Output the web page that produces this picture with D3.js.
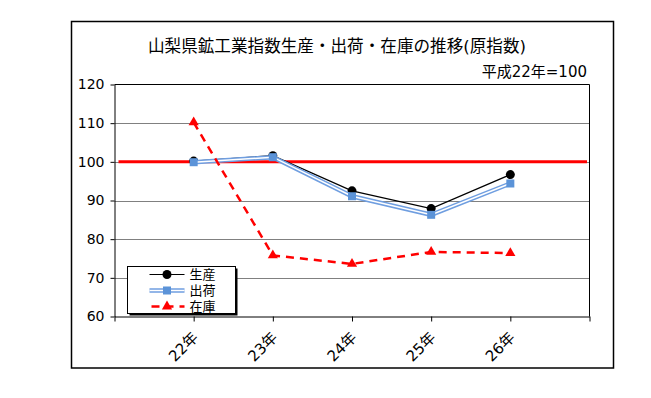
<!DOCTYPE html>
<html>
<head>
<meta charset="utf-8">
<script src="https://cdn.jsdelivr.net/npm/d3@7"></script>
<style>
  body { margin: 0; background: #fff; }
  text { font-family: "DejaVu Sans", "Noto Sans CJK JP", sans-serif; fill: #000; }
</style>
</head>
<body>
<script>
// data
const years = ["22年", "23年", "24年", "25年", "26年"];
const seisan = [100.2, 101.6, 92.5, 87.9, 96.7];
const shukka = [99.9, 101.2, 91.1, 86.3, 94.4];
const zaiko = [110.2, 75.8, 73.6, 76.7, 76.4];
const yTicks = [60, 70, 80, 90, 100, 110, 120];
const seriesNames = ["生産", "出荷", "在庫"];
const baseLine = 100;

const width = 651, height = 398;
const marginLeft = 114.5, marginRight = 589.5, marginTop = 84.5, marginBottom = 316.5;

const svg = d3.select("body").append("svg")
    .attr("width", width)
    .attr("height", height)
    .attr("viewBox", [0, 0, width, height]);

// outer frame
svg.append("rect")
    .attr("x", 71.5).attr("y", 21.5)
    .attr("width", 542).attr("height", 346.5)
    .attr("fill", "#fff").attr("stroke", "#000").attr("stroke-width", 1.5);

// empty slots before and after the years (Excel style axis)
const x = d3.scalePoint()
    .domain(["_a", ...years, "_b"])
    .range([marginLeft, marginRight]);

const y = d3.scaleLinear()
    .domain([60, 120])
    .range([marginBottom, marginTop]);

// title
svg.append("text")
    .attr("x", 337).attr("y", 52)
    .attr("text-anchor", "middle")
    .attr("font-size", 16.6)
    .attr("font-family", "\"Noto Sans CJK JP\", sans-serif")
    .text("山梨県鉱工業指数生産・出荷・在庫の推移(原指数)");

svg.append("text")
    .attr("x", 587).attr("y", 77)
    .attr("text-anchor", "end")
    .attr("font-size", 15)
    .text("平成22年=100");

// grid lines
svg.append("g")
  .selectAll("line")
  .data(yTicks.filter(d => d > 60 && d < 120))
  .join("line")
    .attr("x1", marginLeft).attr("x2", marginRight)
    .attr("y1", d => Math.round(y(d)) + 0.5)
    .attr("y2", d => Math.round(y(d)) + 0.5)
    .attr("stroke", "#808080");

// plot frame top and right
svg.append("path")
    .attr("d", `M${marginLeft},${marginTop}H${marginRight}V${marginBottom}`)
    .attr("fill", "none").attr("stroke", "#000");

// y axis
svg.append("g")
    .attr("transform", `translate(${marginLeft},0)`)
    .call(d3.axisLeft(y).tickValues(yTicks).tickSize(4).tickSizeOuter(0))
    .call(g => g.selectAll("path, line").attr("stroke", "#000"))
    .call(g => g.selectAll("text")
        .attr("font-size", 14)
        .attr("font-family", "\"DejaVu Sans\", sans-serif")
        .attr("x", -10));

// x axis
svg.append("g")
    .attr("transform", `translate(0,${marginBottom})`)
    .call(d3.axisBottom(x).tickSize(5).tickSizeOuter(0).tickFormat(d => years.includes(d) ? d : ""))
    .call(g => g.selectAll("path, line").attr("stroke", "#000"))
    .call(g => g.selectAll("text")
        .attr("font-size", 15)
        .attr("font-family", "\"DejaVu Sans\", \"Noto Sans CJK JP\", sans-serif")
        .attr("text-anchor", "end")
        .attr("y", 0).attr("dy", 0)
        .attr("transform", "translate(5,22) rotate(-45)"));

// 100 line
svg.append("line")
    .attr("x1", marginLeft + 4).attr("x2", marginRight - 2.5)
    .attr("y1", y(baseLine)).attr("y2", y(baseLine))
    .attr("stroke", "#ff0000").attr("stroke-width", 3);

const line = d3.line().x((d, i) => x(years[i])).y(d => y(d));

// 生産
svg.append("path")
    .attr("d", line(seisan))
    .attr("fill", "none").attr("stroke", "#000").attr("stroke-width", 1.2);
svg.append("g").selectAll("circle").data(seisan).join("circle")
    .attr("cx", (d, i) => x(years[i])).attr("cy", d => y(d))
    .attr("r", 4.5).attr("fill", "#000");

// 出荷 (double line)
svg.append("path")
    .attr("d", line(shukka))
    .attr("fill", "none").attr("stroke", "#6f9ee0").attr("stroke-width", 4.5);
svg.append("path")
    .attr("d", line(shukka))
    .attr("fill", "none").attr("stroke", "#fff").attr("stroke-width", 1.5);
svg.append("g").selectAll("rect").data(shukka).join("rect")
    .attr("x", (d, i) => x(years[i]) - 4).attr("y", d => y(d) - 4)
    .attr("width", 8).attr("height", 8).attr("fill", "#5b93d8");

// 在庫
svg.append("path")
    .attr("d", line(zaiko))
    .attr("fill", "none").attr("stroke", "#ff0000").attr("stroke-width", 2.5)
    .attr("stroke-dasharray", "8,6");
const tri = d3.symbol().type(d3.symbolTriangle).size(45);
svg.append("g").selectAll("path").data(zaiko).join("path")
    .attr("d", tri)
    .attr("transform", (d, i) => `translate(${x(years[i])},${y(d)})`)
    .attr("fill", "#ff0000");

// legend
const lg = svg.append("g").attr("transform", "translate(127.5,266.5)");
lg.append("rect").attr("x", 2).attr("y", 2).attr("width", 108).attr("height", 47).attr("fill", "#000");
lg.append("rect").attr("width", 108).attr("height", 47).attr("fill", "#fff").attr("stroke", "#000");

const rows = lg.selectAll("g").data(seriesNames).join("g")
    .attr("transform", (d, i) => `translate(0,${8 + i * 16})`);
rows.append("line").attr("x1", 22).attr("x2", 57);
rows.filter((d, i) => i === 0).select("line").attr("stroke", "#000").attr("stroke-width", 1.2);
rows.filter((d, i) => i === 1).select("line").attr("stroke", "#6f9ee0").attr("stroke-width", 4.5);
rows.filter((d, i) => i === 1).append("line").attr("x1", 22).attr("x2", 57).attr("stroke", "#fff").attr("stroke-width", 1.5);
rows.filter((d, i) => i === 2).select("line").attr("stroke", "#ff0000").attr("stroke-width", 2.5).attr("stroke-dasharray", "8,6").attr("stroke-dashoffset", -2);
rows.filter((d, i) => i === 0).append("circle").attr("cx", 39.5).attr("r", 4.5).attr("fill", "#000");
rows.filter((d, i) => i === 1).append("rect").attr("x", 35.5).attr("y", -4).attr("width", 8).attr("height", 8).attr("fill", "#5b93d8");
rows.filter((d, i) => i === 2).append("path").attr("d", tri).attr("transform", "translate(39.5,0)").attr("fill", "#ff0000");
rows.append("text").attr("x", 62).attr("dy", "0.36em").attr("font-size", 13)
    .attr("font-family", "\"Noto Sans CJK JP\", sans-serif").text(d => d);
</script>
</body>
</html>
